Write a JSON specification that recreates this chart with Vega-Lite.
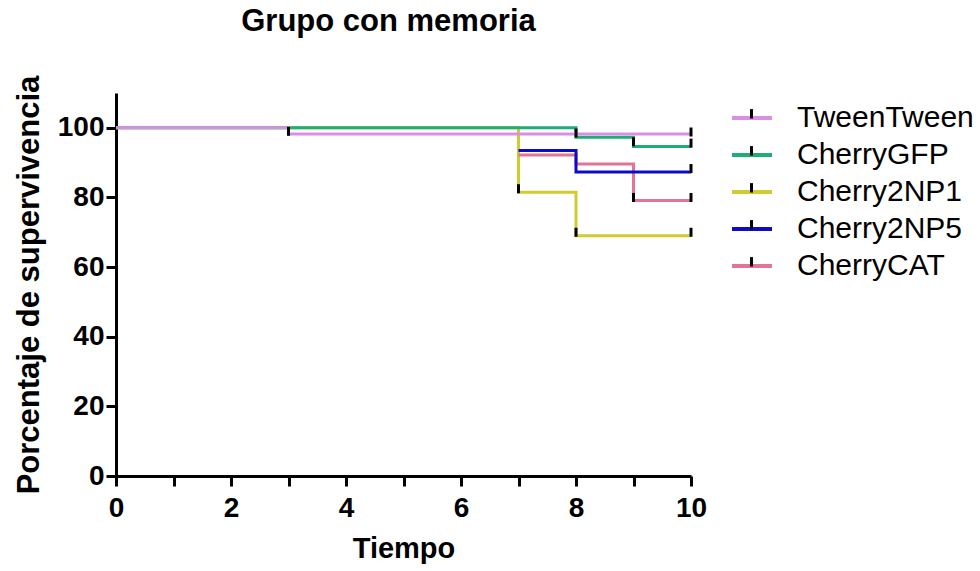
{
  "$schema": "https://vega.github.io/schema/vega-lite/v6.json",
  "autosize": {"type": "none"},
  "width": 575,
  "height": 383,
  "padding": {"left": 116, "top": 93, "right": 289, "bottom": 95},
  "background": "white",
  "title": {
    "text": "Grupo con memoria",
    "font": "Liberation Sans",
    "fontSize": 31,
    "fontWeight": "bold",
    "color": "black",
    "anchor": "middle",
    "frame": "group",
    "dx": -15,
    "offset": 37
  },
  "config": {
    "view": {"stroke": null},
    "axis": {
      "domainColor": "black",
      "domainWidth": 3,
      "tickColor": "black",
      "tickWidth": 3,
      "tickSize": 10,
      "grid": false,
      "labelFont": "Liberation Sans",
      "labelFontSize": 28,
      "labelFontWeight": "bold",
      "labelColor": "black",
      "labelFlush": false,
      "titleFont": "Liberation Sans",
      "titleFontWeight": "bold",
      "titleColor": "black"
    }
  },
  "datasets": {
    "curves": [
      {"serie": "Cherry2NP1", "t": 0, "s": 100},
      {"serie": "Cherry2NP1", "t": 7, "s": 81.5},
      {"serie": "Cherry2NP1", "t": 8, "s": 69},
      {"serie": "Cherry2NP1", "t": 10, "s": 69},
      {"serie": "CherryCAT", "t": 7, "s": 92.2},
      {"serie": "CherryCAT", "t": 8, "s": 89.6},
      {"serie": "CherryCAT", "t": 9, "s": 79.1},
      {"serie": "CherryCAT", "t": 10, "s": 79.1},
      {"serie": "Cherry2NP5", "t": 7, "s": 93.5},
      {"serie": "Cherry2NP5", "t": 8, "s": 87.3},
      {"serie": "Cherry2NP5", "t": 10, "s": 87.3},
      {"serie": "CherryGFP", "t": 0, "s": 100},
      {"serie": "CherryGFP", "t": 8, "s": 97.3},
      {"serie": "CherryGFP", "t": 9, "s": 94.6},
      {"serie": "CherryGFP", "t": 10, "s": 94.6},
      {"serie": "TweenTween", "t": 0, "s": 100},
      {"serie": "TweenTween", "t": 3, "s": 98.2},
      {"serie": "TweenTween", "t": 10, "s": 98.2}
    ],
    "censor": [
      {"serie": "TweenTween", "t": 3, "s": 99},
      {"serie": "TweenTween", "t": 10, "s": 98.8},
      {"serie": "CherryGFP", "t": 8, "s": 98.5},
      {"serie": "CherryGFP", "t": 9, "s": 96},
      {"serie": "CherryGFP", "t": 10, "s": 95.6},
      {"serie": "Cherry2NP1", "t": 7, "s": 82.5},
      {"serie": "Cherry2NP1", "t": 8, "s": 70},
      {"serie": "Cherry2NP1", "t": 10, "s": 70},
      {"serie": "Cherry2NP5", "t": 10, "s": 88.3},
      {"serie": "CherryCAT", "t": 9, "s": 80},
      {"serie": "CherryCAT", "t": 10, "s": 80}
    ]
  },
  "resolve": {"scale": {"color": "independent"}, "legend": {"color": "independent"}},
  "layer": [
    {
      "data": {"name": "curves"},
      "mark": {"type": "line", "interpolate": "step-after", "strokeWidth": 3},
      "encoding": {
        "x": {
          "field": "t", "type": "quantitative", "title": "Tiempo",
          "scale": {"domain": [0, 10], "nice": false, "zero": false},
          "axis": {"values": [0,1,2,3,4,5,6,7,8,9,10], "format": "d", "labelExpr": "datum.value % 2 == 0 ? datum.label : ''", "labelPadding": 8, "titlePadding": 12, "titleFontSize": 29}
        },
        "y": {
          "field": "s", "type": "quantitative", "title": "Porcentaje de supervivencia",
          "scale": {"domain": [0, 110], "nice": false},
          "axis": {"values": [0,10,20,30,40,50,60,70,80,90,100,110], "format": "d", "labelExpr": "datum.value % 20 == 0 && datum.value <= 100 ? datum.label : ''", "labelPadding": 2, "titlePadding": 12, "titleFontSize": 31}
        },
        "color": {
          "field": "serie", "type": "nominal",
          "scale": {
            "domain": ["TweenTween", "CherryGFP", "Cherry2NP1", "Cherry2NP5", "CherryCAT"],
            "range": ["#D98FE6", "#1DAE78", "#D2CB2E", "#0B0BC8", "#E2739B"]
          },
          "legend": {
            "title": null,
            "orient": "none",
            "legendX": 614,
            "legendY": 3,
            "symbolType": "stroke",
            "symbolStrokeWidth": 4,
            "symbolSize": 1600,
            "labelFont": "Liberation Sans",
            "labelFontSize": 30,
            "labelColor": "black",
            "labelOffset": 23,
            "rowPadding": -7,
            "labelLimit": 300
          }
        },
        "order": {"field": "t", "type": "quantitative"}
      }
    },
    {
      "data": {"name": "censor"},
      "mark": {"type": "tick", "orient": "vertical", "size": 9, "thickness": 3, "opacity": 1},
      "encoding": {
        "x": {"field": "t", "type": "quantitative"},
        "y": {"field": "s", "type": "quantitative"},
        "color": {
          "field": "serie", "type": "nominal",
          "scale": {
            "domain": ["TweenTween", "CherryGFP", "Cherry2NP1", "Cherry2NP5", "CherryCAT"],
            "range": ["black", "black", "black", "black", "black"]
          },
          "legend": {
            "title": null,
            "orient": "none",
            "legendX": 614,
            "legendY": 3,
            "symbolType": "M0,-0.42V0.05",
            "symbolStrokeWidth": 3,
            "symbolStrokeColor": "black",
            "symbolFillColor": "transparent",
            "symbolOpacity": 1,
            "symbolSize": 1600,
            "labelFont": "Liberation Sans",
            "labelFontSize": 30,
            "labelColor": "transparent",
            "labelOffset": 23,
            "rowPadding": -7,
            "labelLimit": 300
          }
        }
      }
    }
  ]
}
